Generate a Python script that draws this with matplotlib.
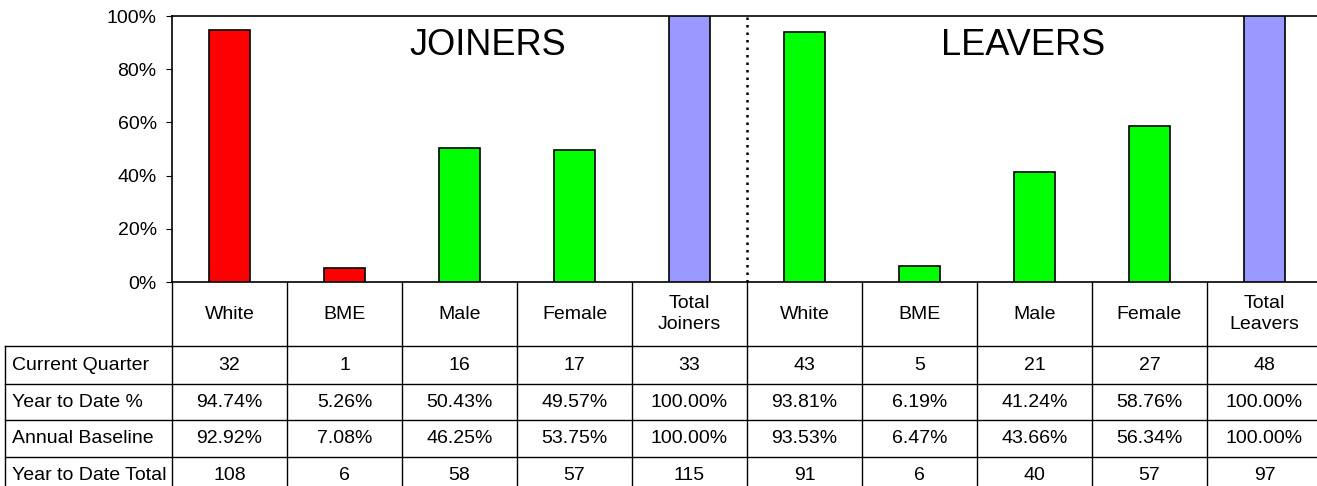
import matplotlib
matplotlib.use("Agg")
import matplotlib.pyplot as plt
from matplotlib.ticker import PercentFormatter

# ---- data ----
categories = ["White", "BME", "Male", "Female", "Total\nJoiners",
              "White", "BME", "Male", "Female", "Total\nLeavers"]
ytd_pct = [94.74, 5.26, 50.43, 49.57, 100.00,
           93.81, 6.19, 41.24, 58.76, 100.00]
bar_colors = ["#FF0000", "#FF0000", "#00FF00", "#00FF00", "#9999FF",
              "#00FF00", "#00FF00", "#00FF00", "#00FF00", "#9999FF"]

row_labels = ["Current Quarter", "Year to Date %", "Annual Baseline", "Year to Date Total"]
current_quarter = ["32", "1", "16", "17", "33", "43", "5", "21", "27", "48"]
ytd_pct_text = ["94.74%", "5.26%", "50.43%", "49.57%", "100.00%",
                "93.81%", "6.19%", "41.24%", "58.76%", "100.00%"]
annual_baseline = ["92.92%", "7.08%", "46.25%", "53.75%", "100.00%",
                   "93.53%", "6.47%", "43.66%", "56.34%", "100.00%"]
ytd_total = ["108", "6", "58", "57", "115", "91", "6", "40", "57", "97"]
table_rows = [current_quarter, ytd_pct_text, annual_baseline, ytd_total]

# ---- layout (pixels) ----
W_PX, H_PX = 1317, 486
L, T, B = 172, 16, 282          # plot area
COL = 115                        # column width
R = L + COL * len(categories)    # runs slightly past the image edge
HDR_B = 346                      # bottom of header row
ROW_H = [38, 36, 37, 37]
LAB_X = 5
FS = 14

plt.rcParams["font.family"] = ["Liberation Sans", "DejaVu Sans"]
fig = plt.figure(figsize=(W_PX / 100, H_PX / 100), dpi=100)

ax = fig.add_axes([L / W_PX, (H_PX - B) / H_PX, (R - L) / W_PX, (B - T) / H_PX])
x = [i + 0.5 for i in range(len(categories))]
ax.bar(x, ytd_pct, width=0.35, color=bar_colors, edgecolor="black", linewidth=1.2, zorder=3)
ax.set_xlim(0, len(categories))
ax.set_ylim(0, 100)
ax.set_yticks(range(0, 101, 20))
ax.yaxis.set_major_formatter(PercentFormatter(decimals=0))
ax.set_xticks([])
ax.tick_params(axis="y", labelsize=FS, length=4, direction="out", pad=7)
for s in ["left", "top", "bottom"]:
    ax.spines[s].set_linewidth(1.2)
ax.spines["right"].set_visible(False)
ax.axvline(5, color="black", linestyle=(0, (1, 2)), linewidth=1.8, zorder=4)
ax.text(2.75, 0.89, "JOINERS", transform=ax.get_xaxis_transform(), ha="center", va="center", fontsize=26)
ax.text(7.4, 0.89, "LEAVERS", transform=ax.get_xaxis_transform(), ha="center", va="center", fontsize=26)

# ---- table ----
tx = fig.add_axes([0, 0, 1, 1])
tx.set_xlim(0, W_PX)
tx.set_ylim(H_PX, 0)
tx.axis("off")
lw = 1.0
col_edges = [L + COL * i for i in range(len(categories) + 1)]
row_edges = [HDR_B]
for h in ROW_H:
    row_edges.append(row_edges[-1] + h)

# header row
for xe in col_edges:
    tx.plot([xe, xe], [B, HDR_B], color="black", lw=lw)
for i, c in enumerate(categories):
    tx.text(col_edges[i] + COL / 2, (B + HDR_B) / 2, c, ha="center", va="center",
            fontsize=FS, linespacing=1.35)

# body rows
for yv in row_edges:
    tx.plot([LAB_X, R], [yv, yv], color="black", lw=lw)
for xe in [LAB_X] + col_edges:
    tx.plot([xe, xe], [HDR_B, row_edges[-1]], color="black", lw=lw)
for r, (lab, vals) in enumerate(zip(row_labels, table_rows)):
    yc = (row_edges[r] + row_edges[r + 1]) / 2
    tx.text(LAB_X + 7, yc, lab, ha="left", va="center", fontsize=FS)
    for i, v in enumerate(vals):
        tx.text(col_edges[i] + COL / 2, yc, v, ha="center", va="center", fontsize=FS)

fig.savefig("out.png", dpi=100)
